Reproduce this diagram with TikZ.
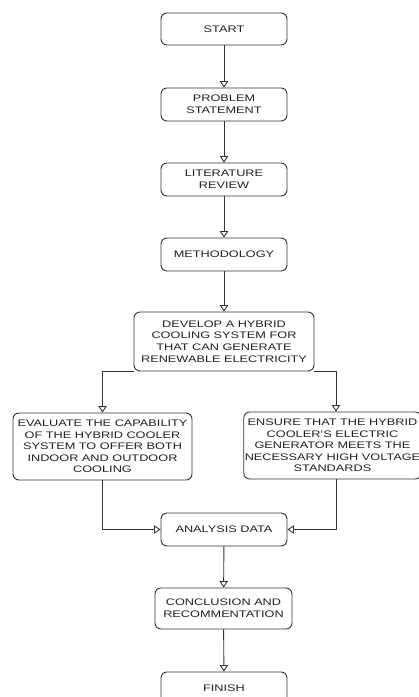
\documentclass[tikz,border=0pt]{standalone}
\usepackage{fontspec}
\setmainfont[FakeStretch=1.34]{Liberation Sans}
\usetikzlibrary{arrows.meta,calc}
\definecolor{linec}{HTML}{333333}
\definecolor{textc}{HTML}{222222}
\begin{document}
\begin{tikzpicture}[x=1pt,y=-1pt,
  box/.style={draw=linec, line width=0.9pt, rounded corners=6pt, align=center,
    text=textc, font=\fontsize{9.5}{11.6}\selectfont, inner sep=1pt},
  sbox/.style={box, minimum width=126pt, minimum height=33pt},
  conn/.style={draw=linec, line width=0.9pt, -{Triangle[open, length=6.5pt, width=8.5pt]}},
  plain/.style={draw=linec, line width=0.9pt}]
\useasboundingbox (0,0) rectangle (419,697);
\clip (0,0) rectangle (419,697);
\fill[white] (0,0) rectangle (419,697);
\node[sbox, minimum height=32pt] (start) at (224,29) {START};
\node[sbox] (prob) at (224,104.5) {PROBLEM\\STATEMENT};
\node[sbox] (lit) at (224,179.5) {LITERATURE\\REVIEW};
\node[sbox] (meth) at (224,254.5) {METHODOLOGY};
\node[box, minimum width=180pt, minimum height=59pt] (dev) at (224,341.5)
  {DEVELOP A HYBRID\\COOLING SYSTEM FOR\\THAT CAN GENERATE\\RENEWABLE ELECTRICITY};
\node[box, minimum width=179pt, minimum height=67pt] (left) at (102.5,446.5)
  {EVALUATE THE CAPABILITY\\OF THE HYBRID COOLER\\SYSTEM TO OFFER BOTH\\INDOOR AND OUTDOOR\\COOLING};
\node[box, minimum width=171pt, minimum height=67pt] (right) at (332.5,445.5)
  {ENSURE THAT THE HYBRID\\COOLER'S ELECTRIC\\GENERATOR MEETS THE\\NECESSARY HIGH VOLTAGE\\STANDARDS};
\node[sbox] (ana) at (224,529.5) {ANALYSIS DATA};
\node[box, minimum width=137pt, minimum height=41pt] (concl) at (223.5,608.5)
  {CONCLUSION AND\\RECOMMENTATION};
\node[sbox, minimum height=32pt] (finish) at (224,688) {FINISH};
\draw[conn] (start) -- (prob);
\draw[conn] (prob) -- (lit);
\draw[conn] (lit) -- (meth);
\draw[conn] (meth) -- (dev);
\coordinate (dl) at ($(dev.south west)+(0,-0.5)$);
\coordinate (dr) at ($(dev.south east)+(0,-0.5)$);
\coordinate (rt) at ($(right.north)+(3.5,0)$);
\coordinate (rb) at ($(right.south)+(3.5,0)$);
\draw[conn] (dl) -| (left.north);
\draw[conn] (dr) -| (rt);
\draw[conn] (left.south) |- (ana.west);
\draw[conn] (rb) |- (ana.east);
\draw[conn] (ana) -- (concl);
\draw[conn] (concl) -- (finish);
\end{tikzpicture}
\end{document}
